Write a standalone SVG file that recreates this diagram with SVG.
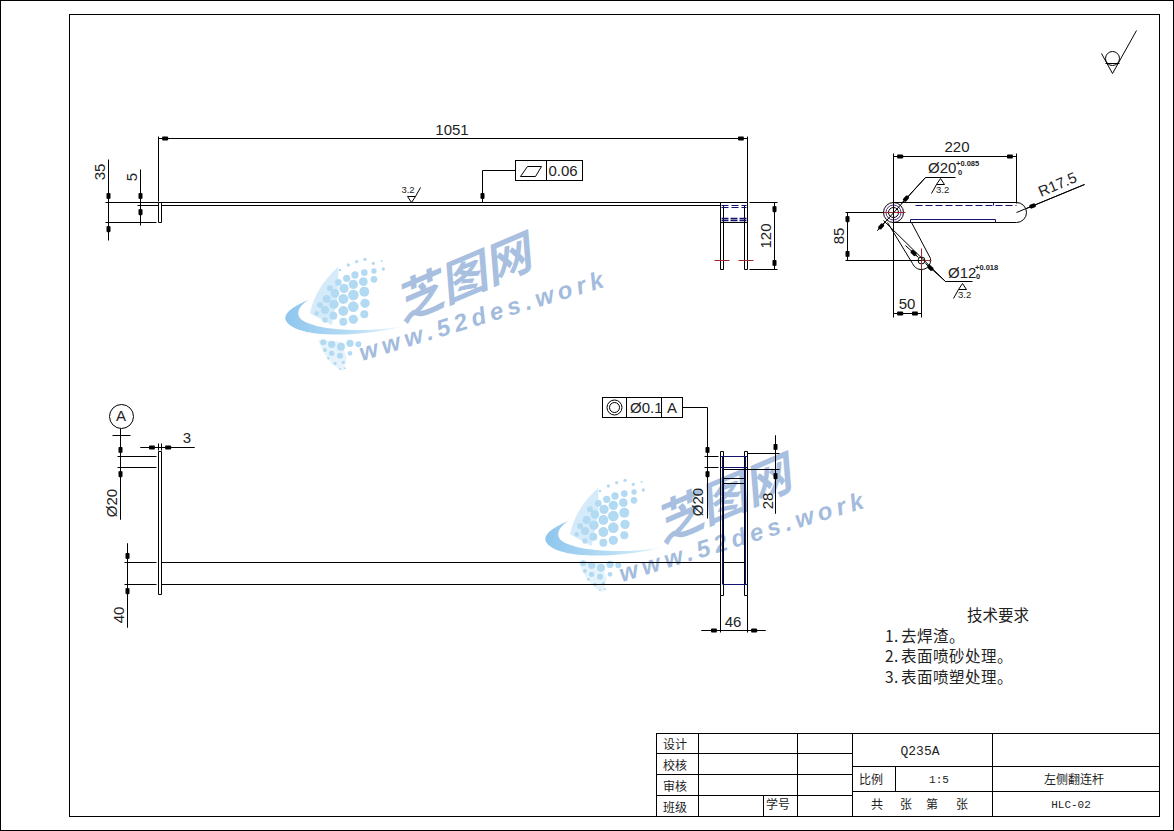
<svg xmlns="http://www.w3.org/2000/svg" width="1174" height="831" viewBox="0 0 1174 831">
<style>
.l{stroke:#000;stroke-width:1;fill:none}
.n{stroke:#14146e;stroke-width:1;fill:none}
.nd{stroke:#14146e;stroke-width:1;fill:none;stroke-dasharray:7 3}
.ndb{stroke:#14146e;stroke-width:1.6;fill:none;stroke-dasharray:7 2}
.r{stroke:#a02a2a;stroke-width:1;fill:none}
.a{marker-end:url(#ar)}
.b{marker-start:url(#ar);marker-end:url(#ar)}
text{font-family:"Liberation Sans",Arial,sans-serif;fill:#222;font-size:15px}
.c{text-anchor:middle}
.s{font-size:7.5px;font-weight:bold}
.t{font-size:9.5px}
.cj{font-family:"Noto Sans CJK SC",sans-serif;font-size:12px;text-anchor:middle}
.req{font-family:"Noto Sans CJK SC",sans-serif;font-size:15.5px}
.sp{letter-spacing:.5px}
.mono{font-family:"Liberation Mono",monospace}
.wm1{font-family:"Noto Sans CJK SC",sans-serif;font-size:48px;font-weight:700;fill:#a8bfe0}
.wm2{font-family:"Liberation Sans",sans-serif;font-size:24px;font-weight:700;font-style:italic;fill:#a3bbdc}
.d{fill:#b3daf3}
</style>
<defs>
<marker id="ar" markerUnits="userSpaceOnUse" markerWidth="11" markerHeight="6" refX="10" refY="3" orient="auto-start-reverse" viewBox="0 0 11 6"><path d="M10 3L6.5 2.5L6 1H1L0 2.5V3.5L1 5H6L6.5 3.5Z" fill="#000"/></marker>
<linearGradient id="sw" x1="0" x2="1" y1="0" y2="0"><stop offset="0" stop-color="#8fc6ee"/><stop offset=".6" stop-color="#b9def5"/><stop offset="1" stop-color="#e6f4fc"/></linearGradient>
<g id="wm">
<g transform="translate(275 225) scale(.3333)">
<path d="M190 125C150 160 115 210 105 265L170 300L190 200Z" fill="#d6ebf9"/>
<path d="M130 345C145 390 170 425 205 438L215 400L200 350Z" fill="#e6f3fb"/>
<g class="d">
<circle cx="320" cy="108" r="3"/><circle cx="295" cy="115" r="5"/><circle cx="270" cy="103" r="5"/><circle cx="245" cy="110" r="5"/><circle cx="220" cy="120" r="5"/><circle cx="195" cy="135" r="4"/>
<circle cx="325" cy="132" r="5"/><circle cx="297" cy="138" r="8"/><circle cx="268" cy="143" r="10"/><circle cx="240" cy="150" r="11"/><circle cx="215" cy="160" r="11"/><circle cx="190" cy="172" r="10"/><circle cx="165" cy="190" r="9"/>
<circle cx="297" cy="163" r="10"/><circle cx="265" cy="170" r="13"/><circle cx="235" cy="178" r="14"/><circle cx="207" cy="190" r="14"/><circle cx="180" cy="205" r="13"/><circle cx="155" cy="222" r="12"/><circle cx="135" cy="240" r="9"/>
<circle cx="268" cy="200" r="15"/><circle cx="235" cy="210" r="16"/><circle cx="205" cy="222" r="15"/><circle cx="177" cy="238" r="14"/><circle cx="150" cy="255" r="12"/><circle cx="125" cy="265" r="7"/>
<circle cx="270" cy="235" r="14"/><circle cx="235" cy="245" r="16"/><circle cx="205" cy="258" r="15"/><circle cx="175" cy="272" r="12"/><circle cx="150" cy="285" r="8"/>
<circle cx="268" cy="268" r="12"/><circle cx="235" cy="283" r="14"/><circle cx="205" cy="290" r="12"/>
<circle cx="250" cy="358" r="9"/><circle cx="225" cy="355" r="11"/><circle cx="198" cy="365" r="12"/><circle cx="170" cy="358" r="11"/><circle cx="145" cy="352" r="9"/>
<circle cx="225" cy="385" r="7"/><circle cx="195" cy="392" r="9"/><circle cx="170" cy="385" r="8"/><circle cx="150" cy="375" r="6"/>
<circle cx="205" cy="412" r="5"/><circle cx="180" cy="415" r="5"/><circle cx="160" cy="400" r="4"/><circle cx="195" cy="432" r="3"/><circle cx="210" cy="430" r="3"/>
</g>
<path d="M100 225C50 245 20 270 35 290C60 330 200 345 380 305C250 325 110 315 75 280C62 262 75 240 100 225Z" fill="url(#sw)"/>
</g>
<text class="wm1" transform="matrix(.92 -.39 .08 1 402 322)">芝图网</text>
<text class="wm2" transform="translate(362 361) rotate(-17)" textLength="254">www.52des.work</text>
</g>
</defs>
<rect width="1174" height="831" fill="#fff"/>
<use href="#wm"/>
<use href="#wm" x="260" y="221"/>
<g transform="translate(.5 .5)">
<rect id="outer-border" class="l" x="0" y="0" width="1173" height="830"/>
<rect id="frame" class="l" x="69" y="14" width="1090" height="802"/>
<g id="surface-symbol" class="l"><path d="M1101 53L1112 73L1136 30M1105 63H1119"/><circle cx="1112" cy="58" r="7"/></g>

<g id="front-view">
<path class="l" d="M158 202H747M161 205H720M158 202V222H161V202M720 202V269H723V205M744 205V269H747V202M720 222H747"/>
<path class="nd" d="M721 205H746M721 207H746"/>
<path class="ndb" d="M721 218H746M721 220H746"/>
<path class="r" d="M714 260H729M738 260H753"/>
<path class="l" d="M407 196H415L411 202ZM415 196L420 187"/>
<rect class="l" x="515" y="160" width="67" height="20"/><path class="l" d="M546 160V180M520 176L527 166H541L535 176Z"/>
</g>

<g id="side-view">
<circle class="l" cx="893" cy="212" r="10"/>
<circle cx="893" cy="212" r="7.5" stroke="#5a2a8c" fill="none"/>
<circle cx="893" cy="212" r="5" class="l"/>
<path class="l" d="M893 202H1016A10 10 0 0 1 1016 222H893"/>
<path class="l" d="M887 222L912 263C914 267 917 269 921 269C926 269 930 265 930 260L930 258L911 222"/>
<circle class="l" cx="921" cy="260" r="3.5"/>
<path class="nd" d="M915 205H1016"/>
<path class="n" d="M993 202V205M910 222V219H995V222"/>
<path class="r" d="M881 212H905M893 200V224M909 260H931M921 248V272"/>
<path class="l" d="M1016 212L1084 184"/>
<path class="l" d="M936 184H944L940 178ZM931 193L936 184M958 289H966L962 283ZM953 298L958 289"/>
</g>

<g id="plan-view">
<path class="l" d="M158 451H161V594H158ZM720 451H723V595H720ZM744 451H747V595H744Z"/>
<path class="l" d="M161 562H720M161 584H720M723 478H744M723 483H744M723 562H744"/>
<path class="n" d="M720 456H747M720 467H747M722 456V584M745 456V584M723 584H747"/>
<circle class="l" cx="121" cy="416" r="12"/>
<path class="l" d="M112 435H130"/>
<rect class="l" x="602" y="397" width="80" height="20"/><path class="l" d="M626 397V417M661 397V417"/>
<circle class="l" cx="614" cy="407" r="7.5"/><circle class="l" cx="614" cy="407" r="5"/>
</g>

<g id="connectors" class="l">
<path class="b" d="M158 138H747"/><path d="M158 136V201M747 136V202"/>
<path class="a" d="M108 159V202"/><path class="a" d="M108 240V222"/><path d="M108 202V222M105 202H158M105 222H156"/>
<path class="a" d="M140 169V202"/><path class="a" d="M140 225V205"/><path d="M140 202V205M137 205H158"/>
<path class="a" d="M482 170V202"/><path d="M515 170H482"/>
<path class="b" d="M774 202V269"/><path d="M749 202H777M749 269H777"/>
<path class="b" d="M893 156H1016"/><path d="M893 153V317M1016 153V203"/>
<path class="b" d="M847 212V260"/><path d="M845 212H883M845 260H921"/>
<path class="b" d="M893 313H921"/><path d="M921 269V317"/>
<path class="a" d="M1084 184L1026 208"/>
<path d="M955 177H925L877 230"/><path class="a" d="M925 177L901 203"/><path class="a" d="M877 230L885 221"/>
<path d="M972 281H945L883 220"/><path class="a" d="M945 281L925 263"/><path class="a" d="M905 245L918 257"/>
<path d="M120 428V519"/><path class="a" d="M120 435V456"/><path class="a" d="M120 519V467"/><path d="M117 456H156M117 467H156"/>
<path d="M140 447H194"/><path class="a" d="M140 447H158"/><path class="a" d="M194 447H161"/><path d="M158 443V450M161 443V450"/>
<path d="M127 543V627"/><path class="a" d="M127 543V562"/><path class="a" d="M127 627V584"/><path d="M124 562H156M124 584H156"/>
<path d="M707 456V467"/><path class="a" d="M682 407H707V456"/><path class="a" d="M707 518V467"/><path d="M704 456H718M704 467H718"/>
<path d="M775 435V513"/><path class="a" d="M775 435V453"/><path class="a" d="M775 513V469"/><path d="M747 453H779M722 469H779"/>
<path d="M701 630H765"/><path class="a" d="M701 630H720"/><path class="a" d="M765 630H747"/><path d="M720 595V632M747 595V632"/>
</g>

<g id="title-block" class="l">
<rect x="656" y="733" width="503" height="83"/>
<path d="M698 733V816M797 733V816M852 733V816M992 733V816M763 795V816M895 766V791M656 753H852M656 774H852M656 795H852M852 766H1159M852 791H1159"/>
</g>
</g>

<g id="labels">
<text class="c" x="452" y="135">1051</text>
<text class="c" transform="translate(105 172) rotate(-90)">35</text>
<text class="c" transform="translate(137 177) rotate(-90)">5</text>
<text class="c" x="563" y="176">0.06</text>
<text class="c t" x="408" y="193">3.2</text>
<text class="c" transform="translate(771 236) rotate(-90)">120</text>
<text class="c" x="957" y="152">220</text>
<text x="928" y="173">Ø20</text>
<text class="s" x="956" y="166">+0.085</text>
<text class="s" x="958" y="175">0</text>
<text class="t" x="936" y="193">3.2</text>
<text transform="translate(1041 197) rotate(-23)">R17.5</text>
<text class="c" transform="translate(844 236) rotate(-90)">85</text>
<text class="c" x="907" y="309">50</text>
<text x="948" y="278">Ø12</text>
<text class="s" x="975" y="270">+0.018</text>
<text class="s" x="976" y="279">0</text>
<text class="t" x="958" y="298">3.2</text>
<text class="c" x="121" y="421">A</text>
<text class="c" x="187" y="443">3</text>
<text class="c" transform="translate(117 503) rotate(-90)">Ø20</text>
<text class="c" transform="translate(124 615) rotate(-90)">40</text>
<text x="630" y="413">Ø0.1</text>
<text class="c" x="672" y="413">A</text>
<text class="c" transform="translate(703 502) rotate(-90)">Ø20</text>
<text class="c" transform="translate(773 501) rotate(-90)">28</text>
<text class="c" x="733" y="627">46</text>
<text class="req" x="967" y="621">技术要求</text>
<text class="req sp" x="885" y="642">1.<tspan x="901">去焊渣。</tspan></text>
<text class="req sp" x="885" y="662">2.<tspan x="901">表面喷砂处理。</tspan></text>
<text class="req sp" x="885" y="683">3.<tspan x="901">表面喷塑处理。</tspan></text>
<text class="cj" x="675" y="749">设计</text>
<text class="cj" x="675" y="770">校核</text>
<text class="cj" x="675" y="791">审核</text>
<text class="cj" x="675" y="812">班级</text>
<text class="cj" x="778" y="809">学号</text>
<text class="mono c" x="920" y="755" style="font-size:13px">Q235A</text>
<text class="cj" x="871" y="784">比例</text>
<text class="mono c" x="939" y="783" style="font-size:11px">1:5</text>
<text class="cj" x="1074" y="784">左侧翻连杆</text>
<text class="cj" x="877" y="809">共</text>
<text class="cj" x="906" y="809">张</text>
<text class="cj" x="932" y="809">第</text>
<text class="cj" x="962" y="809">张</text>
<text class="mono c" x="1071" y="808" style="font-size:11px">HLC-02</text>
</g>
</svg>
